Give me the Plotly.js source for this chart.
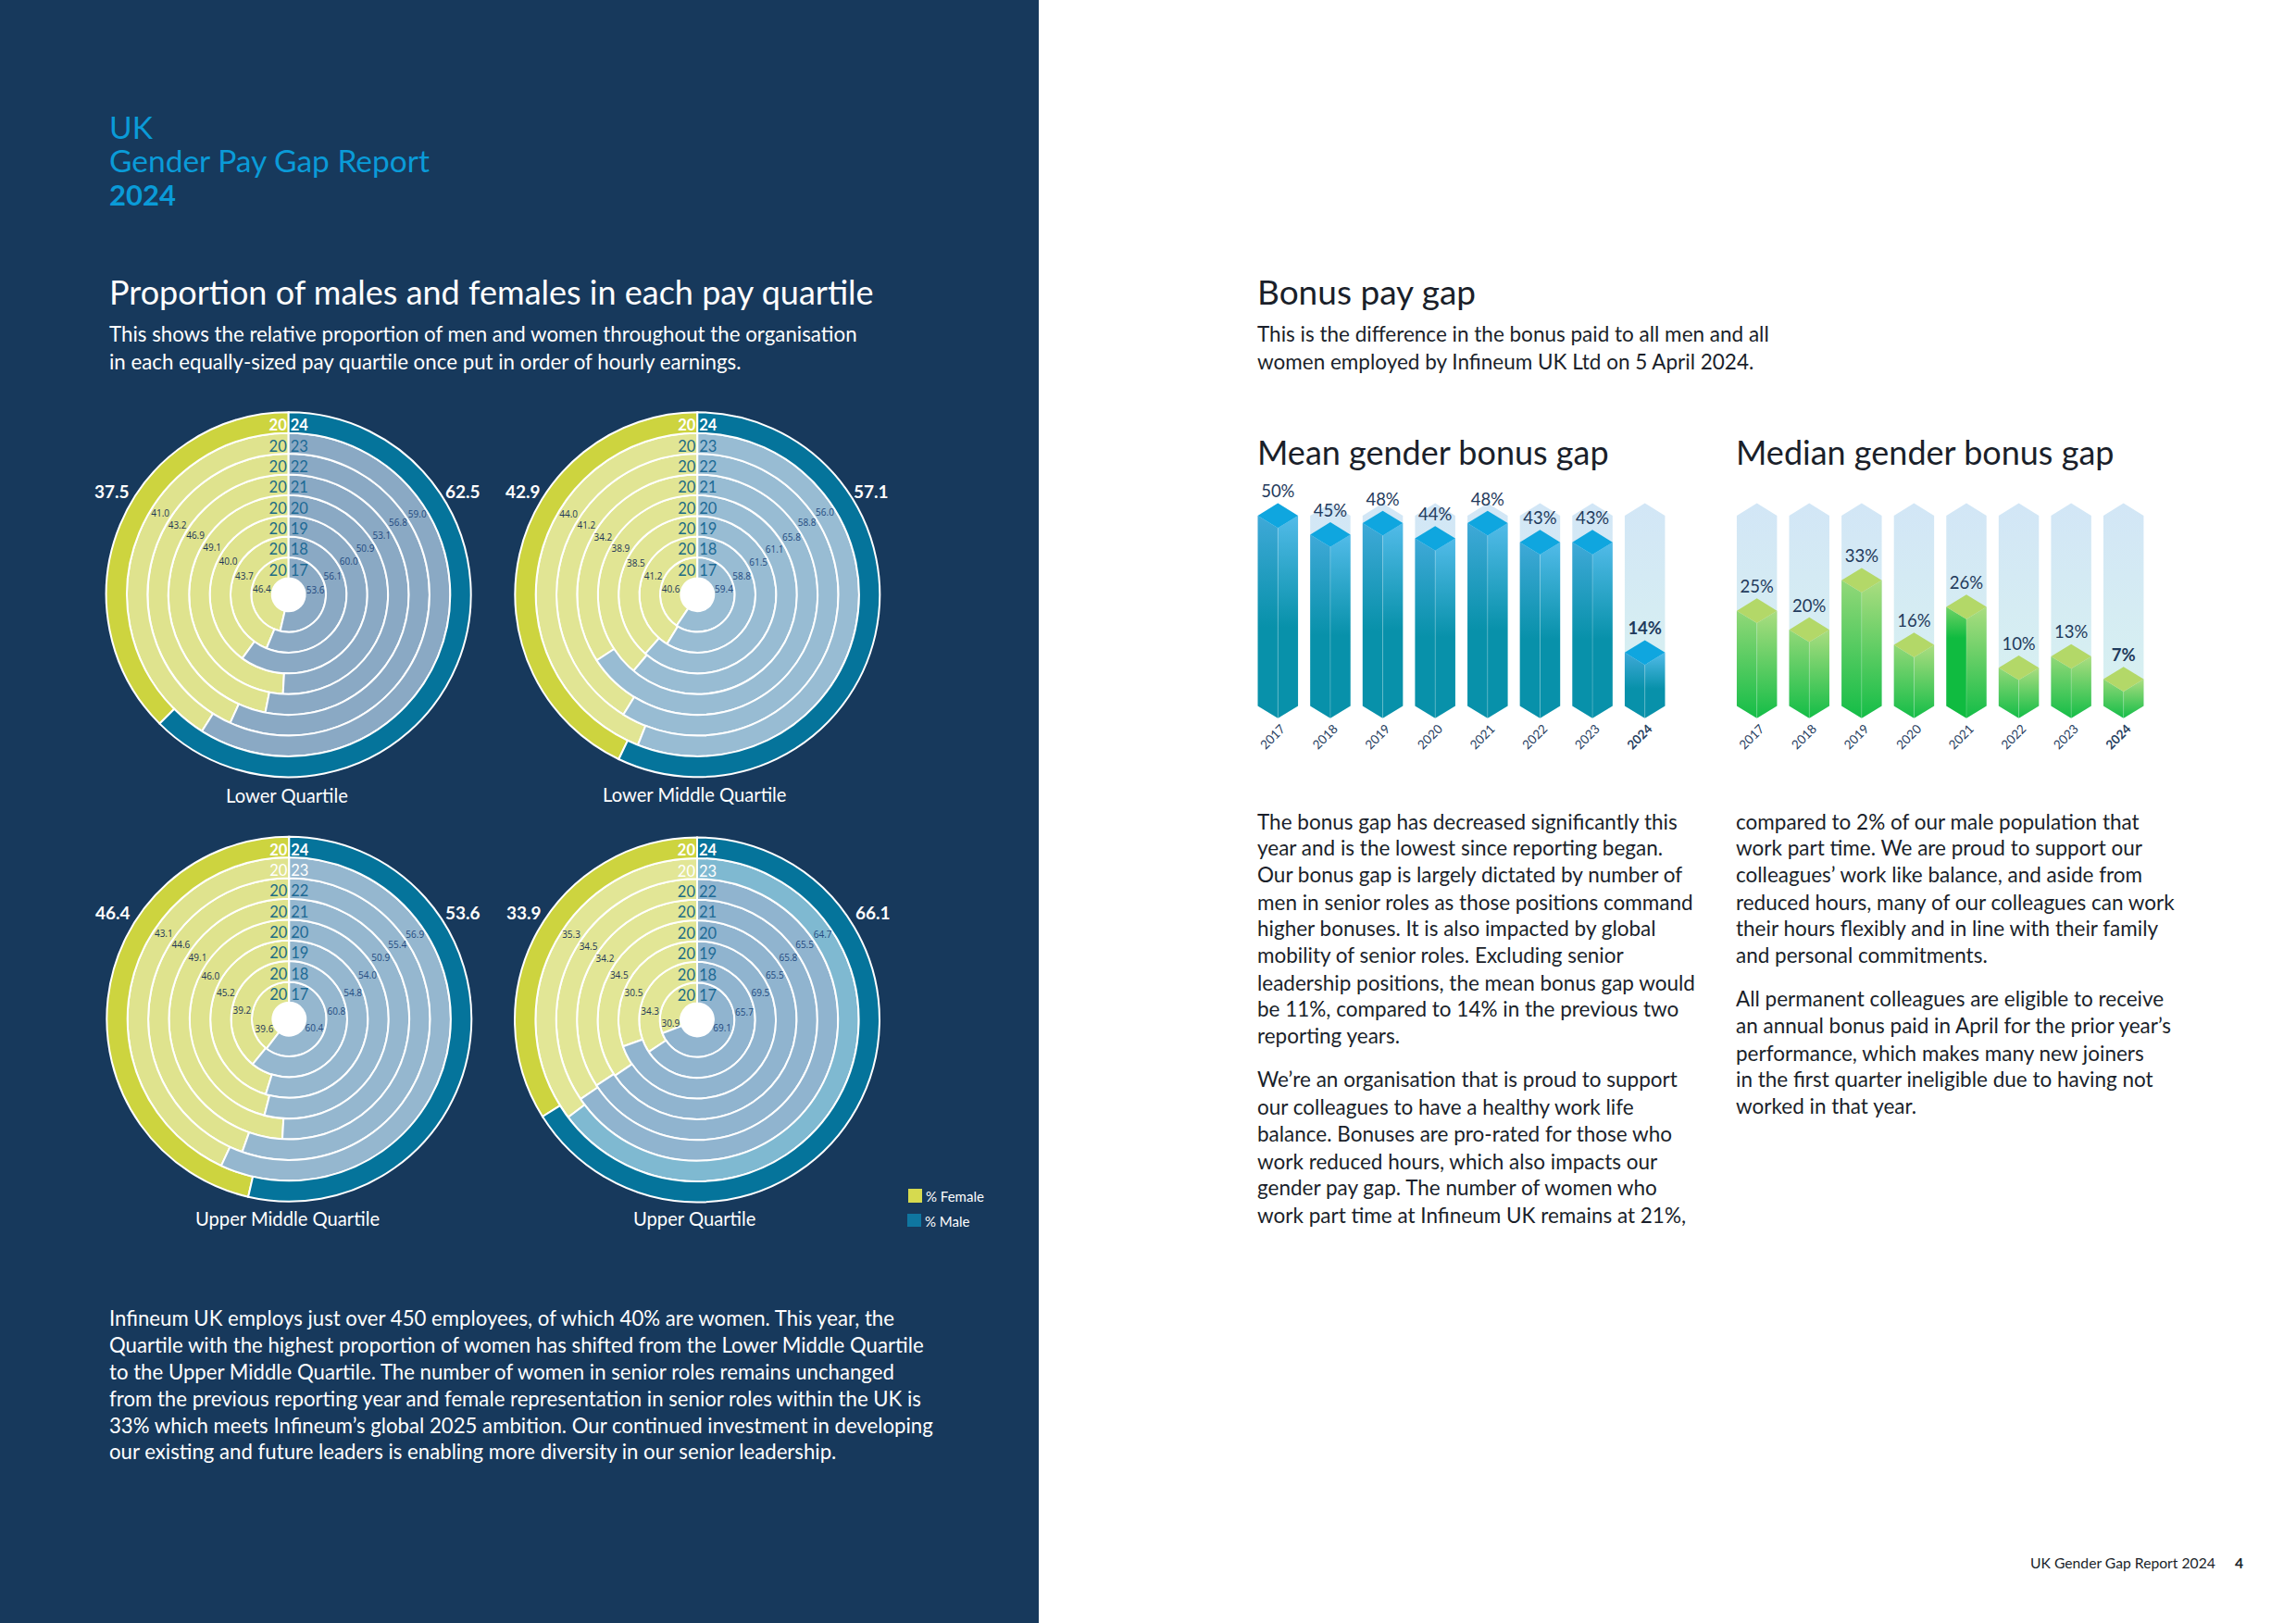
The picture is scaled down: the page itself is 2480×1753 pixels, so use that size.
<!DOCTYPE html>
<html><head><meta charset="utf-8">
<script src="https://cdn.plot.ly/plotly-3.0.1.min.js"></script>
<style>html,body{margin:0;padding:0;background:#fff}#c{width:2480px;height:1753px}</style>
</head><body><div id="c"></div>
<script>
const years = [2017,2018,2019,2020,2021,2022,2023,2024];

const lowerF = [46.4,43.7,40.0,49.1,46.9,43.2,41.0,37.5];
const lowerM = [53.6,56.1,60.0,50.9,53.1,56.8,59.0,62.5];
const lowerMidF = [40.6,41.2,38.5,38.9,34.2,41.2,44.0,42.9];
const lowerMidM = [59.4,58.8,61.5,61.1,65.8,58.8,56.0,57.1];
const upperMidF = [39.6,39.2,45.2,46.0,49.1,44.6,43.1,46.4];
const upperMidM = [60.4,60.8,54.8,54.0,50.9,55.4,56.9,53.6];
const upperF = [30.9,34.3,30.5,34.5,34.2,34.5,35.3,33.9];
const upperM = [69.1,65.7,69.5,65.5,65.8,65.5,64.7,66.1];

const meanGap = [50,45,48,44,48,43,43,14];
const medianGap = [25,20,33,16,26,10,13,7];

const FONT = 'Lato, "Noto Sans", sans-serif';
const W = 2480, H = 1753;
const px = x => x / W, py = y => 1 - y / H;

/* placement of the polar panels */
const R = 199, HOLE = 0.8, OUTER = 8.09, UNIT = R/(HOLE+OUTER), YEARGAP = 2, YEARR = 0.3;
const panels = [
 {id:'polar',  f:lowerF,    m:lowerM,    cx:311.7, cy:642.3, name:'Lower Quartile',       nx:310, ny:859,
  inF:'#dfe38e', inM:'#8aa9c4', lastM:'#8aa9c4', white23:false, lf:[120.7,530], lm:[500,530],
  fa:[279,292,298,301,302,301.6,302], ma:[83,68,61.7,59.4,58,57,58.3]},
 {id:'polar2', f:lowerMidF, m:lowerMidM, cx:753.3, cy:642.3, name:'Lower Middle Quartile',nx:750, ny:858,
  inF:'#e1e594', inM:'#98bcd3', lastM:'#98bcd3', white23:false, lf:[565,530], lm:[941,530],
  fa:[279,292,296,300.6,300.8,301.7,301.6], ma:[80.5,68.5,63,60,59,57,57.4]},
 {id:'polar3', f:upperMidF, m:upperMidM, cx:312.3, cy:1100.7,name:'Upper Middle Quartile',nx:310, ny:1316,
  inF:'#dfe38e', inM:'#95b7cf', lastM:'#95b7cf', white23:true, lf:[122,986], lm:[500,986],
  fa:[247,278.6,292,298,303.6,304,304], ma:[111.5,82.5,68.7,61.6,56.5,56,56.3]},
 {id:'polar4', f:upperF,    m:upperM,    cx:753,   cy:1101.5,name:'Upper Quartile',       nx:750, ny:1316,
  inF:'#e2e696', inM:'#90b4cf', lastM:'#7fb9d1', white23:true, lf:[566,986], lm:[943,986],
  fa:[260,279,292,299,303,303.6,303.7], ma:[111,82,67.8,60.5,56,55.4,56.1]}
];
const FEM24 = '#cdd43f', MAL24 = '#05749b';

const traces = [], layout = {
  width:W, height:H, margin:{l:0,r:0,t:0,b:0}, paper_bgcolor:'#ffffff', plot_bgcolor:'rgba(0,0,0,0)',
  showlegend:false, font:{family:FONT}, hovermode:false,
  shapes:[{type:'rect',xref:'paper',yref:'paper',x0:0,x1:px(1122),y0:0,y1:1,fillcolor:'#17395c',line:{width:0},layer:'below'},
          {type:'rect',xref:'paper',yref:'paper',x0:px(981),x1:px(996),y0:py(1299),y1:py(1284),fillcolor:'#d6da4f',line:{width:0},layer:'below'},
          {type:'rect',xref:'paper',yref:'paper',x0:px(980),x1:px(995),y0:py(1325),y1:py(1311),fillcolor:'#0f76a0',line:{width:0},layer:'below'}],
  annotations:[]
};
const txt = (x,y,text,size,color,extra) => layout.annotations.push(Object.assign(
  {xref:'paper',yref:'paper',x:px(x-2.5),y:py(y),text,showarrow:false,xanchor:'left',yanchor:'middle',align:'left',
   font:{family:FONT,size,color}},extra||{}));

panels.forEach(p=>{
  const base = years.map((_,i)=>i);
  const mAng = p.m.map((v,i)=>v/(v+p.f[i])*360);
  layout[p.id] = {
    domain:{x:[px(p.cx-R),px(p.cx+R)],y:[py(p.cy+R),py(p.cy-R)]},
    bgcolor:'rgba(0,0,0,0)',
    radialaxis:{visible:false,range:[-HOLE,OUTER]},
    angularaxis:{visible:false,rotation:90,direction:'clockwise'}
  };
  traces.push({type:'barpolar',subplot:p.id,r:[HOLE],base:[-HOLE],theta:[180],width:[360],
    marker:{color:'#ffffff',line:{width:0}},showlegend:false,hoverinfo:'skip'});
  traces.push({type:'barpolar',subplot:p.id,name:'% Female',showlegend:false,hoverinfo:'skip',
    r:base.map(()=>1),base,
    theta:mAng.map(a=>(a+360)/2),width:mAng.map(a=>360-a),
    marker:{color:years.map((y,i)=>i===7?FEM24:p.inF),line:{color:'#ffffff',width:2}}});
  traces.push({type:'barpolar',subplot:p.id,name:'% Male',showlegend:false,hoverinfo:'skip',
    r:base.map(()=>1),base,
    theta:mAng.map(a=>a/2),width:mAng,
    marker:{color:years.map((y,i)=>i===7?MAL24:(i===6?p.lastM:p.inM)),line:{color:'#ffffff',width:2}}});
  const yc = years.map((y,i)=>(i===7||(i===6&&p.white23))?'#ffffff':null);
  const prefix = years.map(y=>String(y).slice(0,2)), suffix = years.map(y=>String(y).slice(2));
  const nudge = base.map(b=>YEARGAP/((HOLE+b+YEARR)*UNIT)*180/Math.PI);
  traces.push({type:'scatterpolar',subplot:p.id,mode:'text',showlegend:false,hoverinfo:'skip',cliponaxis:false,
    r:base.map(b=>b+YEARR),theta:nudge.map(a=>360-a),textposition:'middle left',
    text:prefix.map((s,i)=>i===7?'<b>'+s+'</b>':s),
    textfont:{family:FONT,size:16.5,color:yc.map(c=>c||'#1c6c84')}});
  traces.push({type:'scatterpolar',subplot:p.id,mode:'text',showlegend:false,hoverinfo:'skip',cliponaxis:false,
    r:base.map(b=>b+YEARR),theta:nudge,textposition:'middle right',
    text:suffix.map((s,i)=>i===7?'<b>'+s+'</b>':s),
    textfont:{family:FONT,size:16.5,color:yc.map(c=>c||'#1d6a95')}});
  const lb = base.slice(0,7);
  traces.push({type:'scatterpolar',subplot:p.id,mode:'text',showlegend:false,hoverinfo:'skip',
    r:lb.map(b=>b+0.5),theta:p.fa,textposition:'middle center',
    text:lb.map(i=>p.f[i].toFixed(1)),textfont:{family:'"Open Sans"',size:10,color:'#1c3557'}});
  traces.push({type:'scatterpolar',subplot:p.id,mode:'text',showlegend:false,hoverinfo:'skip',
    r:lb.map(b=>b+0.5),theta:p.ma,textposition:'middle center',
    text:lb.map(i=>p.m[i].toFixed(1)),textfont:{family:'"Open Sans"',size:10,color:'#234a80'}});
  txt(p.lf[0],p.lf[1],'<b>'+p.f[7].toFixed(1)+'</b>',19,'#ffffff',{x:px(p.lf[0]),xanchor:'center'});
  txt(p.lm[0],p.lm[1],'<b>'+p.m[7].toFixed(1)+'</b>',19,'#ffffff',{x:px(p.lm[0]),xanchor:'center'});
  txt(p.nx,p.ny,p.name,20.2,'#ffffff',{x:px(p.nx),xanchor:'center'});
});

/* isometric columns */
const PXPCT = 4.11, HW = 0.384, DIA = 3.24, GHOST = 50, BOT = 775.7, YTOP = 60;
function column(vals, xa, ya, left, right, st){
  const xs = years.map((_,i)=>i);
  layout[xa.replace('x','xaxis')] = {domain:[px(left),px(right)],range:[-0.5,7.5],anchor:ya,
    tickmode:'array',tickvals:xs,ticktext:years.map((y,i)=>i===7?'<b>'+y+'</b>':String(y)),tickangle:-45,ticks:'',ticklabelshift:4,
    tickfont:{family:FONT,size:13.5,color:'#27405f'},showgrid:false,zeroline:false,showline:false,fixedrange:true};
  layout[ya.replace('y','yaxis')] = {domain:[py(BOT),py(BOT-YTOP*PXPCT)],range:[0,YTOP],anchor:xa,visible:false,fixedrange:true};
  const poly = (x,y,fill) => traces.push(Object.assign({type:'scatter',mode:'lines',x,y,xaxis:xa,yaxis:ya,fill:'toself',
     line:{width:0},showlegend:false,hoverinfo:'skip'},fill));
  const grad = (lo,mid,hi) => ({fillgradient:{type:'vertical',colorscale:[[0,lo],[mid,lo],[1,hi]]}});
  vals.forEach((v,i)=>{
    poly([i-HW,i,i+HW,i+HW,i,i-HW,i-HW],[GHOST+DIA,GHOST+2*DIA,GHOST+DIA,DIA,0,DIA,GHOST+DIA],grad('#d8f2f0',0,'#d2e6f6'));
    poly([i-HW,i,i,i-HW,i-HW],[v+DIA,v,0,DIA,v+DIA],
      st.special===i?grad(st.sl[0],st.sl[1],st.sl[2]):grad(st.l[0],st.l[1],st.l[2]));
    poly([i,i+HW,i+HW,i,i],[v,v+DIA,DIA,0,v],grad(st.r[0],st.r[1],st.r[2]));
    poly([i-HW,i,i+HW,i,i-HW],[v+DIA,v+2*DIA,v+DIA,v,v+DIA],{fillcolor:st.top});
  });
  traces.push({type:'scatter',mode:'lines',xaxis:xa,yaxis:ya,showlegend:false,hoverinfo:'skip',
    x:vals.flatMap((v,i)=>[i,i,null]),y:vals.flatMap(v=>[v,0,null]),line:{width:1,color:st.edge}});
  traces.push({type:'scatter',mode:'text',xaxis:xa,yaxis:ya,showlegend:false,hoverinfo:'skip',cliponaxis:false,
    x:xs,y:vals.map(v=>v+2*DIA+0.4),textposition:'top center',
    text:vals.map((v,i)=>i===7?'<b>'+v+'%</b>':v+'%'),textfont:{family:FONT,size:18.5,color:'#1f3a5c'}});
}
column(meanGap,'x','y',1352,1805,{l:['#0891aa',0.45,'#3fa9d8'],r:['#0891aa',0.45,'#52bbe9'],sl:['#0891aa',0.45,'#3fa9d8'],top:'#0fa6df',edge:'rgba(255,255,255,0.22)'});
column(medianGap,'x2','y2',1869.4,2322,{l:['#14bd47',0,'#92d878'],r:['#14bd47',0,'#abdd80'],sl:['#10bb40',0.72,'#6fd266'],top:'#b3d868',edge:'rgba(255,255,255,0.2)',special:4});

/* page text */
const BLUE='#0a9bd8', INK='#1a1f2a';
txt(1000,1292,'% Female',15,'#ffffff'); txt(999,1319,'% Male',15,'#ffffff');
txt(118,137,'UK',33.5,BLUE); txt(118,173,'Gender Pay Gap Report',33.5,BLUE); txt(118,210,'<b>2024</b>',31,BLUE);
txt(118,315,'Proportion of males and females in each pay quartile',36,'#ffffff');
['This shows the relative proportion of men and women throughout the organisation',
 'in each equally-sized pay quartile once put in order of hourly earnings.'].forEach((s,i)=>txt(118,361+i*30,s,22.3,'#ffffff'));
const leftBottom=['Infineum UK employs just over 450 employees, of which 40% are women. This year, the',
 'Quartile with the highest proportion of women has shifted from the Lower Middle Quartile',
 'to the Upper Middle Quartile. The number of women in senior roles remains unchanged',
 'from the previous reporting year and female representation in senior roles within the UK is',
 '33% which meets Infineum\u2019s global 2025 ambition. Our continued investment in developing',
 'our existing and future leaders is enabling more diversity in our senior leadership.'];
[1423.4,1452,1481,1510,1539,1567].forEach((y,i)=>txt(118,y,leftBottom[i],22.2,'#ffffff'));
txt(1358.6,315,'Bonus pay gap',37,INK);
['This is the difference in the bonus paid to all men and all','women employed by Infineum UK Ltd on 5 April 2024.'].forEach((s,i)=>txt(1358.6,361+i*30,s,22.5,INK));
txt(1358.6,488,'Mean gender bonus gap',36,INK);
txt(1875.7,488,'Median gender bonus gap',36,INK);
const colA=['The bonus gap has decreased significantly this','year and is the lowest since reporting began.','Our bonus gap is largely dictated by number of','men in senior roles as those positions command','higher bonuses. It is also impacted by global','mobility of senior roles. Excluding senior','leadership positions, the mean bonus gap would','be 11%, compared to 14% in the previous two','reporting years.',
 'We\u2019re an organisation that is proud to support','our colleagues to have a healthy work life','balance. Bonuses are pro-rated for those who','work reduced hours, which also impacts our','gender pay gap. The number of women who','work part time at Infineum UK remains at 21%,'];
const colAY=[561,579,597,616,634,652,671,689,707,737,756,774,793,811,830];
colA.forEach((s,i)=>txt(1358.6,colAY[i]*1.5816,s,22.5,INK));
const colB=['compared to 2% of our male population that','work part time. We are proud to support our','colleagues\u2019 work like balance, and aside from','reduced hours, many of our colleagues can work','their hours flexibly and in line with their family','and personal commitments.',
 'All permanent colleagues are eligible to receive','an annual bonus paid in April for the prior year\u2019s','performance, which makes many new joiners','in the first quarter ineligible due to having not','worked in that year.'];
const colBY=[561,579,597,616,634,652,682,700,719,737,755];
colB.forEach((s,i)=>txt(1875.7,colBY[i]*1.5816,s,22.5,INK));
txt(2193.6,1687.6,'UK Gender Gap Report 2024',15.7,INK);
txt(2414,1687.6,'<b>4</b>',15.7,INK);

Plotly.newPlot('c',traces,layout,{staticPlot:true,displayModeBar:false});
</script></body></html>
